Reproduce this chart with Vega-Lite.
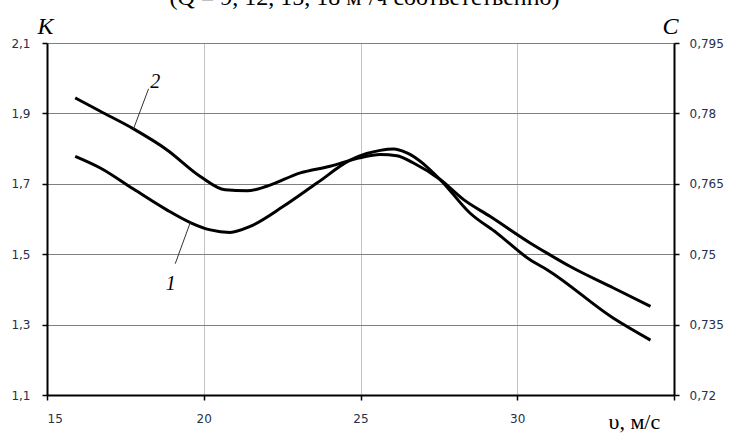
{
  "$schema": "https://vega.github.io/schema/vega-lite/v6.json",
  "autosize": "none",
  "width": 627,
  "height": 352,
  "padding": {"left": 47, "top": 43, "right": 56, "bottom": 41},
  "background": "white",
  "title": {
    "text": "(Q = 9, 12, 15, 18 м³/ч соответственно)",
    "font": "Liberation Serif",
    "fontSize": 24,
    "fontWeight": "normal",
    "color": "black",
    "anchor": "middle",
    "frame": "group",
    "offset": 4,
    "dx": 4
  },
  "config": {
    "view": {"stroke": null},
    "axis": {
      "labelFont": "DejaVu Sans",
      "labelFontSize": 12,
      "labelColor": "#27304a",
      "domainColor": "black",
      "domainWidth": 2,
      "tickColor": "black",
      "tickWidth": 1.5
    }
  },
  "datasets": {
    "curves": [
      {"series": "1", "v": 15.9, "K": 1.778},
      {"series": "1", "v": 16.7, "K": 1.745},
      {"series": "1", "v": 17.76, "K": 1.685},
      {"series": "1", "v": 18.82, "K": 1.626},
      {"series": "1", "v": 19.57, "K": 1.59},
      {"series": "1", "v": 20.21, "K": 1.569},
      {"series": "1", "v": 20.84, "K": 1.562},
      {"series": "1", "v": 21.48, "K": 1.579},
      {"series": "1", "v": 22.54, "K": 1.636},
      {"series": "1", "v": 23.61, "K": 1.702},
      {"series": "1", "v": 24.67, "K": 1.767},
      {"series": "1", "v": 25.2, "K": 1.786},
      {"series": "1", "v": 25.63, "K": 1.795},
      {"series": "1", "v": 26.05, "K": 1.799},
      {"series": "1", "v": 26.48, "K": 1.788},
      {"series": "1", "v": 27.54, "K": 1.712},
      {"series": "1", "v": 28.49, "K": 1.617},
      {"series": "1", "v": 29.35, "K": 1.56},
      {"series": "1", "v": 30.41, "K": 1.484},
      {"series": "1", "v": 30.95, "K": 1.456},
      {"series": "1", "v": 33.07, "K": 1.318},
      {"series": "1", "v": 34.25, "K": 1.256},
      {"series": "2", "v": 15.9, "K": 1.944},
      {"series": "2", "v": 16.7, "K": 1.906},
      {"series": "2", "v": 17.76, "K": 1.856},
      {"series": "2", "v": 18.82, "K": 1.797},
      {"series": "2", "v": 19.89, "K": 1.721},
      {"series": "2", "v": 20.68, "K": 1.683},
      {"series": "2", "v": 21.38, "K": 1.68},
      {"series": "2", "v": 22.01, "K": 1.693},
      {"series": "2", "v": 23.08, "K": 1.731},
      {"series": "2", "v": 24.03, "K": 1.75},
      {"series": "2", "v": 24.94, "K": 1.773},
      {"series": "2", "v": 25.63, "K": 1.783},
      {"series": "2", "v": 26.16, "K": 1.78},
      {"series": "2", "v": 26.69, "K": 1.759},
      {"series": "2", "v": 27.54, "K": 1.712},
      {"series": "2", "v": 28.29, "K": 1.655},
      {"series": "2", "v": 29.14, "K": 1.607},
      {"series": "2", "v": 30.41, "K": 1.532},
      {"series": "2", "v": 30.95, "K": 1.503},
      {"series": "2", "v": 31.69, "K": 1.465},
      {"series": "2", "v": 33.07, "K": 1.404},
      {"series": "2", "v": 34.25, "K": 1.352}
    ],
    "leaders": [
      {"series": "2", "v": 18.24, "K": 1.97, "v2": 17.76, "K2": 1.856},
      {"series": "1", "v": 19.57, "K": 1.59, "v2": 19.09, "K2": 1.473}
    ],
    "labels": [
      {"label": "2", "v": 18.45, "K": 1.99},
      {"label": "1", "v": 18.95, "K": 1.415}
    ],
    "caxis": [
      {"C": 0.72},
      {"C": 0.795}
    ]
  },
  "layer": [
    {
      "encoding": {
        "x": {
          "field": "v", "type": "quantitative",
          "scale": {"domain": [15, 35], "nice": false},
          "axis": {
            "values": [15, 20, 25, 30, 35],
            "labelExpr": "datum.value == 35 ? '' : datum.label",
            "grid": true,
            "gridColor": "#c4c4c4",
            "gridWidth": 1,
            "tickSize": 5,
            "labelPadding": 13,
            "title": "υ,   м/с",
            "titleFont": "Liberation Serif",
            "titleFontSize": 22,
            "titleFontWeight": "normal",
            "titleFontStyle": "normal",
            "titleColor": "black",
            "titleAlign": "left",
            "titleBaseline": "alphabetic",
            "titleX": 561,
            "titleY": 33
          }
        },
        "y": {
          "field": "K", "type": "quantitative",
          "scale": {"domain": [1.1, 2.1], "nice": false, "zero": false},
          "axis": {
            "values": [1.1, 1.3, 1.5, 1.7, 1.9, 2.1],
            "labelExpr": "replace(format(datum.value, '.1f'), '.', ',')",
            "grid": true,
            "gridColor": "#808080",
            "gridWidth": 1,
            "tickSize": 5,
            "labelPadding": 12,
            "title": "K",
            "titleAngle": 0,
            "titleFont": "Liberation Serif",
            "titleFontSize": 24,
            "titleFontWeight": "normal",
            "titleFontStyle": "italic",
            "titleColor": "black",
            "titleAlign": "center",
            "titleBaseline": "alphabetic",
            "titleX": -2,
            "titleY": -10
          }
        }
      },
      "layer": [
        {
          "data": {"name": "curves"},
          "mark": {"type": "line", "interpolate": "monotone", "color": "black", "strokeWidth": 3},
          "encoding": {"detail": {"field": "series"}}
        },
        {
          "data": {"name": "leaders"},
          "mark": {"type": "rule", "color": "#333", "strokeWidth": 1},
          "encoding": {
            "x2": {"field": "v2"},
            "y2": {"field": "K2"}
          }
        },
        {
          "data": {"name": "labels"},
          "mark": {"type": "text", "font": "Liberation Serif", "fontSize": 20, "fontStyle": "italic", "color": "black"},
          "encoding": {"text": {"field": "label"}}
        }
      ]
    },
    {
      "data": {"name": "caxis"},
      "mark": {"type": "point", "opacity": 0},
      "encoding": {
        "y": {
          "field": "C", "type": "quantitative",
          "scale": {"domain": [0.72, 0.795], "nice": false, "zero": false},
          "axis": {
            "orient": "right",
            "values": [0.72, 0.735, 0.75, 0.765, 0.78, 0.795],
            "labelExpr": "replace(format(datum.value, '.3~f'), '.', ',')",
            "grid": false,
            "tickSize": 5,
            "labelPadding": 10,
            "title": "C",
            "titleAngle": 0,
            "titleFont": "Liberation Serif",
            "titleFontSize": 24,
            "titleFontWeight": "normal",
            "titleFontStyle": "italic",
            "titleColor": "black",
            "titleAlign": "center",
            "titleBaseline": "alphabetic",
            "titleX": -4,
            "titleY": -10
          }
        }
      }
    }
  ],
  "resolve": {"scale": {"y": "independent"}}
}
